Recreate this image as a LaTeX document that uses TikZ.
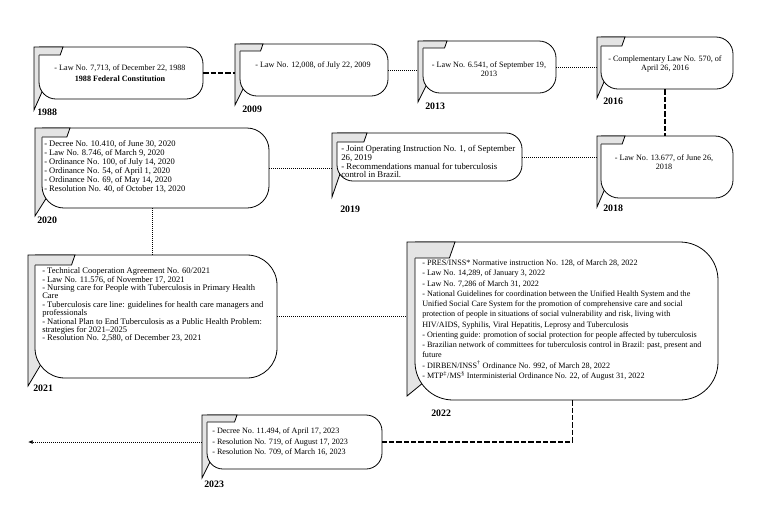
\documentclass[tikz,border=0pt]{standalone}
\usepackage{fontspec}
\setmainfont{Liberation Serif}
\usetikzlibrary{fit,arrows.meta}
\definecolor{flapgrey}{HTML}{E4E4E4}
\tikzset{
  x=0.75pt, y=-0.75pt,
  boxline/.style={draw=black, line width=0.6pt, line join=miter},
  dotconn/.style={draw=black, line width=0.6pt, dash pattern=on 0.6pt off 0.9pt},
  thickdash/.style={draw=black, line width=1.3pt, dash pattern=on 4pt off 1.5pt},
  bodytext/.style={font=\fontsize{6.1}{6.3}\selectfont, inner sep=0pt},
  yearlabel/.style={font=\fontsize{7.4}{8}\selectfont\bfseries, inner sep=0pt, anchor=west},
}
\def\tlTip{10}
% #1 name, #2 L, #3 T, #4 R, #5 B, #6 inner offset, #7 flap width, #8 flap height, #9 radius
\newcommand\tlbox[9]{%
  \pgfmathsetmacro\tlFd{0.35*#8}%
  \pgfmathsetlengthmacro\tlR{#9*0.75pt}%
  \coordinate (#1-nw) at (#2,#3);
  \coordinate (#1-se) at (#4,#5);
  \node[fit=(#1-nw)(#1-se), inner sep=0pt, draw=none] (#1) {};
  \fill[flapgrey] (#2,#3) -- ({#2+#6+#9},#3) -- ({#2+#6+#9},{#5-#9}) -- ({#2+#6+0.181*#9},{#5-0.426*#9}) -- (#2,{#5+\tlTip}) -- cycle;
  \path[boxline, fill=white, rounded corners=\tlR] ({#2+#6},#3) -- (#4,#3) -- (#4,#5) -- ({#2+#6},#5) -- ({#2+#6},#3);
  \fill[flapgrey] (#2,#3) -- ({#2+#7},#3) -- ({#2+#7-\tlFd},{#3+#8}) -- (#2,{#3+#8}) -- cycle;
  \draw[boxline] ({#2+#6+0.181*#9},{#5-0.426*#9}) -- (#2,{#5+\tlTip}) -- (#2,#3) -- ({#2+#7},#3) -- ({#2+#7-\tlFd},{#3+#8}) -- ({#2+#6},{#3+#8});
}
\begin{document}
\begin{tikzpicture}
\useasboundingbox (0,0) rectangle (775,512);
\fill[white] (0,0) rectangle (775,512);

% boxes
\def\tlTip{11}
\tlbox{b1988}{34}{47}{203}{99}{5}{29}{8}{17}
\def\tlTip{9}
\tlbox{b2009}{235}{44}{388}{96}{5}{28}{7}{17}
\tlbox{b2013}{418}{41}{556}{93}{5}{29}{7}{17}
\tlbox{b2016}{597}{37}{733}{89}{4}{28}{9}{17}
\tlbox{b2018}{597}{136}{733}{198}{4}{28}{8}{18}
\def\tlTip{16}
\tlbox{b2019}{332}{133}{522}{181}{5}{35}{9}{16}
\def\tlTip{8}
\tlbox{b2020}{35}{128}{269}{208}{7}{35}{9}{22}
\tlbox{b2021}{28}{255}{277}{378}{7}{47}{10}{30}
\def\tlTip{-4}
\tlbox{b2022}{407}{242}{718}{400}{8}{48}{16}{38}
\def\tlTip{9}
\tlbox{b2023}{202}{415}{382}{469}{5}{35}{7}{16}

% texts
\node[bodytext, align=center] (t1988) at (120,73) {- Law No. 7,713, of December 22, 1988\\[1.5pt]\textbf{1988 Federal Constitution}};
\node[bodytext, align=center] (t2009) at (313,66) {- Law No. 12,008, of July 22, 2009};
\node[bodytext, align=center] (t2013) at (489,69) {- Law No. 6.541, of September 19,\\2013};
\node[bodytext, align=center] (t2016) at (665,64) {- Complementary Law No. 570, of\\April 26, 2016};
\node[bodytext, align=center] (t2018) at (664,162) {- Law No. 13.677, of June 26,\\2018};
\node[bodytext, font=\fontsize{6.6}{6.45}\selectfont, anchor=north west, align=left] (t2019) at (341,145.5) {- Joint Operating Instruction No. 1, of September\\26, 2019\\- Recommendations manual for tuberculosis\\control in Brazil.};
\node[bodytext, font=\fontsize{6.4}{6.75}\selectfont, anchor=north west, align=left] (t2020) at (44,140.5) {- Decree No. 10.410, of June 30, 2020\\- Law No. 8.746, of March 9, 2020\\- Ordinance No. 100, of July 14, 2020\\- Ordinance No. 54, of April 1, 2020\\- Ordinance No. 69, of May 14, 2020\\- Resolution No. 40, of October 13, 2020};
\node[bodytext, font=\fontsize{6.4}{6.3}\selectfont, anchor=north west, align=left] (t2021) at (42,267.5) {- Technical Cooperation Agreement No. 60/2021\\- Law No. 11.576, of November 17, 2021\\- Nursing care for People with Tuberculosis in Primary Health\\Care\\- Tuberculosis care line: guidelines for health care managers and\\professionals\\- National Plan to End Tuberculosis as a Public Health Problem:\\strategies for 2021--2025\\- Resolution No. 2,580, of December 23, 2021};
\node[bodytext, font=\fontsize{6.1}{7.7}\selectfont, anchor=north west, align=left] (t2022) at (422,259.5) {- PRES/INSS* Normative instruction No. 128, of March 28, 2022\\- Law No. 14,289, of January 3, 2022\\- Law No. 7,286 of March 31, 2022\\- National Guidelines for coordination between the Unified Health System and the\\Unified Social Care System for the promotion of comprehensive care and social\\protection of people in situations of social vulnerability and risk, living with\\HIV/AIDS, Syphilis, Viral Hepatitis, Leprosy and Tuberculosis\\- Orienting guide: promotion of social protection for people affected by tuberculosis\\- Brazilian network of committees for tuberculosis control in Brazil: past, present and\\future\\- DIRBEN/INSS\textsuperscript{†} Ordinance No. 992, of March 28, 2022\\- MTP\textsuperscript{‡}/MS\textsuperscript{§} Interministerial Ordinance No. 22, of August 31, 2022};
\node[bodytext, font=\fontsize{6.1}{7.9}\selectfont, anchor=north west, align=left] (t2023) at (212,427.5) {- Decree No. 11.494, of April 17, 2023\\- Resolution No. 719, of August 17, 2023\\- Resolution No. 709, of March 16, 2023};

% year labels
\node[yearlabel] (y1988) at (37,112) {1988};
\node[yearlabel] (y2009) at (242,109) {2009};
\node[yearlabel] (y2013) at (425,106) {2013};
\node[yearlabel] (y2016) at (603,101) {2016};
\node[yearlabel] (y2018) at (603,208) {2018};
\node[yearlabel] (y2019) at (340,209) {2019};
\node[yearlabel] (y2020) at (37,220) {2020};
\node[yearlabel] (y2021) at (33,388) {2021};
\node[yearlabel] (y2022) at (431,413) {2022};
\node[yearlabel] (y2023) at (204,484) {2023};

% connectors
\draw[thickdash] (b1988.east) -- (b1988.east -| b2009.west);
\draw[dotconn] (b2009.east) -- (b2009.east -| b2013.west);
\draw[dotconn] (b2013.east) -- (b2013.east -| b2016.west);
\draw[thickdash] (b2016.south) -- (b2016.south |- b2018.north);
\draw[dotconn] (b2019.east) -- (b2019.east -| b2018.west);
\draw[dotconn] (b2020.east) -- (b2020.east -| b2019.west);
\draw[dotconn] (b2020.south) -- (b2020.south |- b2021.north);
\draw[dotconn] (b2021.east) -- (b2021.east -| b2022.west);
\draw[thickdash] ([xshift=7.5pt]b2022.south) |- (b2023.east);
\coordinate (arrowend) at (28,442);
\draw[dotconn, -{Latex[length=3.5pt,width=3pt]}] (b2023.west) -- (b2023.west -| arrowend);
\end{tikzpicture}
\end{document}
